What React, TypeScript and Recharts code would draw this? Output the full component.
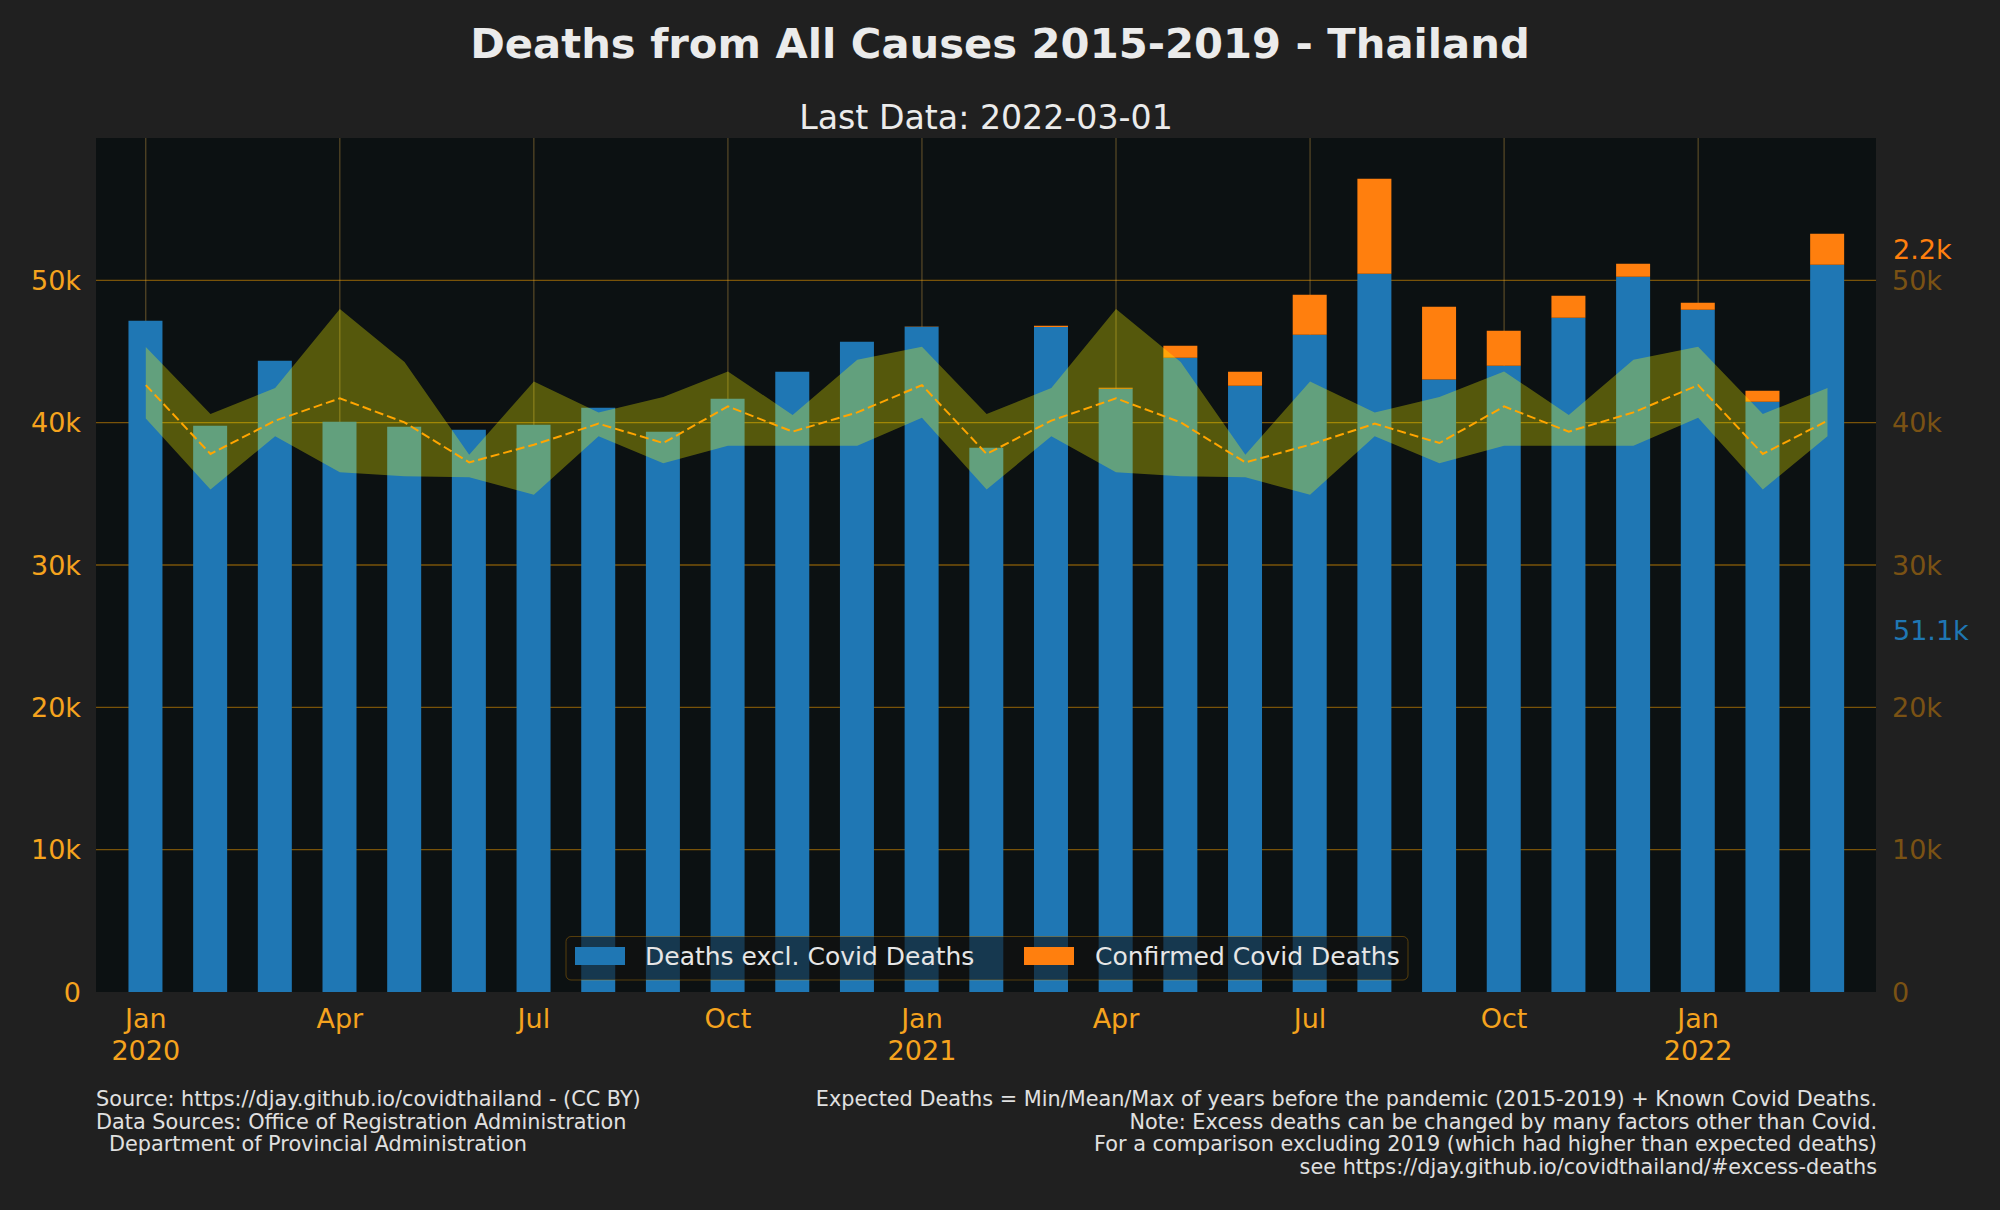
import React from "react";
import { ComposedChart, Bar, Area, Line, XAxis, YAxis, CartesianGrid } from "recharts";

// monthly deaths, Jan 2020 .. Mar 2022
const exclCovid = [
  47160, 39790, 44350, 40070, 39720, 39500, 39860, 41050, 39370, 41680, 43580, 45690,
  46740, 38240, 46720, 42390, 44560, 42600, 46180, 50470, 43040, 44000, 47370, 50260,
  47940, 41470, 51100,
];
const covidDeaths = [
  0, 0, 0, 0, 0, 0, 0, 0, 0, 0, 0, 0,
  10, 0, 90, 70, 840, 980, 2810, 6670, 5110, 2460, 1550, 910,
  490, 770, 2180,
];
// expected deaths (min / mean / max of 2015-2019)
const expectedMin = [
  40300, 35310, 39040, 36510, 36230, 36160, 34940, 39040, 37140, 38380, 38380, 38380,
  40350, 35310, 39040, 36510, 36230, 36160, 34940, 39040, 37140, 38380, 38380, 38380,
  40350, 35310, 39040,
];
const expectedMean = [
  42640, 37800, 40140, 41710, 40020, 37210, 38450, 39930, 38570, 41140, 39370, 40720,
  42640, 37800, 40140, 41710, 40020, 37210, 38450, 39930, 38570, 41140, 39370, 40720,
  42640, 37800, 40140,
];
const expectedMax = [
  45310, 40610, 42430, 47980, 44260, 37750, 42900, 40720, 41800, 43600, 40540, 44420,
  45340, 40610, 42430, 47980, 44260, 37750, 42900, 40720, 41800, 43600, 40540, 44420,
  45340, 40610, 42430,
];
const tickMonths = [0, 3, 6, 9, 12, 15, 18, 21, 24];
const tickLabels = [
  ["Jan", "2020"], ["Apr"], ["Jul"], ["Oct"],
  ["Jan", "2021"], ["Apr"], ["Jul"], ["Oct"],
  ["Jan", "2022"],
];
const yTicks = [0, 10000, 20000, 30000, 40000, 50000];

const data = exclCovid.map((v, i) => ({
  i,
  excl: v,
  covid: covidDeaths[i],
  band: [expectedMin[i], expectedMax[i]],
  mean: expectedMean[i],
}));

const FONT = "DejaVu Sans";
const kFmt = (v: number) => (v === 0 ? "0" : `${v / 1000}k`);
const k1 = (v: number) => `${(v / 1000).toFixed(1)}k`;

const XTick = (props: any) => {
  const { x, y, payload } = props;
  const lines = tickLabels[tickMonths.indexOf(payload.value)] || [];
  return (
    <g>
      {lines.map((t, j) => (
        <text key={j} x={x} y={y + 35.5 + j * 32} textAnchor="middle" fill="#f5a31e" fontSize={27} fontFamily={FONT}>
          {t}
        </text>
      ))}
    </g>
  );
};

export default function App() {
  const last = exclCovid.length - 1;
  return (
    <div style={{ position: "absolute", left: 0, top: 0, width: 2000, height: 1210, background: "#202020", overflow: "hidden" }}>
      <ComposedChart width={2000} height={1210} data={data} margin={{ top: 138, right: 24, bottom: 118, left: 16 }}>
        <CartesianGrid
          yAxisId="left"
          vertical={false}
          horizontalValues={yTicks.slice(1)}
          syncWithTicks
          stroke="#ffa500"
          strokeOpacity={0.45}
          strokeWidth={1.3}
          fill="#0c1112"
          fillOpacity={1}
        />
        <CartesianGrid
          yAxisId="left"
          horizontal={false}
          verticalValues={tickMonths}
          syncWithTicks
          stroke="#d9a84a"
          strokeOpacity={0.45}
          strokeWidth={1}
        />
        <XAxis
          dataKey="i"
          type="number"
          domain={[-0.77, 26.75]}
          ticks={tickMonths}
          interval={0}
          allowDataOverflow
          height={100}
          axisLine={false}
          tickLine={false}
          tickSize={0}
          tickMargin={0}
          tick={<XTick />}
        />
        <YAxis
          yAxisId="left"
          width={80}
          domain={[0, 60000]}
          ticks={yTicks}
          tickFormatter={kFmt}
          axisLine={false}
          tickLine={false}
          tickSize={0}
          tickMargin={15}
          tick={{ fill: "#f5a31e", fontSize: 27, fontFamily: FONT }}
        />
        <YAxis
          yAxisId="right"
          orientation="right"
          width={100}
          domain={[0, 60000]}
          ticks={yTicks}
          tickFormatter={kFmt}
          axisLine={false}
          tickLine={false}
          tickSize={0}
          tickMargin={16}
          tick={{ fill: "#7a5214", fontSize: 27, fontFamily: FONT, textAnchor: "start" }}
        />
        <Bar yAxisId="left" dataKey="excl" stackId="d" fill="#1f77b4" barSize={34} isAnimationActive={false} />
        <Bar yAxisId="left" dataKey="covid" stackId="d" fill="#ff7f0e" barSize={34} isAnimationActive={false} />
        <Area
          yAxisId="left"
          type="linear"
          dataKey="band"
          fill="#ffff00"
          fillOpacity={0.3}
          stroke="none"
          isAnimationActive={false}
          zIndex={350}
        />
        <Line
          yAxisId="right"
          type="linear"
          dataKey="mean"
          stroke="#ffa500"
          strokeWidth={2}
          strokeDasharray="9 4"
          dot={false}
          isAnimationActive={false}
          zIndex={400}
        />
      </ComposedChart>

      <svg width={2000} height={1210} style={{ position: "absolute", left: 0, top: 0, pointerEvents: "none" }} fontFamily={FONT}>
        <text x={1000} y={58.3} textAnchor="middle" fontSize={41.7} fontWeight="bold" fill="#ebebeb">
          Deaths from All Causes 2015-2019 - Thailand
        </text>
        <text x={986} y={129} textAnchor="middle" fontSize={33.2} fill="#ebebeb">
          Last Data: 2022-03-01
        </text>

        <text x={1893} y={259} fontSize={27} fill="#ff7f0e">{k1(covidDeaths[last])}</text>
        <text x={1893} y={640} fontSize={27} fill="#1f77b4">{k1(exclCovid[last])}</text>

        <rect x={566} y={936.5} width={842} height={43.5} rx={5} fill="#111111" fillOpacity={0.62} stroke="#ffa500" strokeOpacity={0.3} />
        <rect x={575} y={947} width={50} height={18} fill="#1f77b4" />
        <text x={645} y={965} fontSize={25} fill="#e6e6e6">Deaths excl. Covid Deaths</text>
        <rect x={1024} y={947} width={50} height={18} fill="#ff7f0e" />
        <text x={1095} y={965} fontSize={25} fill="#e6e6e6">Confirmed Covid Deaths</text>

        <g fontSize={20.8} fill="#e0e0e0">
          <text x={96} y={1106}>Source: https://djay.github.io/covidthailand - (CC BY)</text>
          <text x={96} y={1128.7}>Data Sources: Office of Registration Administration</text>
          <text x={109} y={1151.3}>Department of Provincial Administration</text>
        </g>
        <g fontSize={20.8} fill="#e0e0e0" textAnchor="end">
          <text x={1877} y={1106}>Expected Deaths = Min/Mean/Max of years before the pandemic (2015-2019) + Known Covid Deaths.</text>
          <text x={1877} y={1128.7}>Note: Excess deaths can be changed by many factors other than Covid.</text>
          <text x={1877} y={1151.3}>For a comparison excluding 2019 (which had higher than expected deaths)</text>
          <text x={1877} y={1174}>see https://djay.github.io/covidthailand/#excess-deaths</text>
        </g>
      </svg>
    </div>
  );
}
